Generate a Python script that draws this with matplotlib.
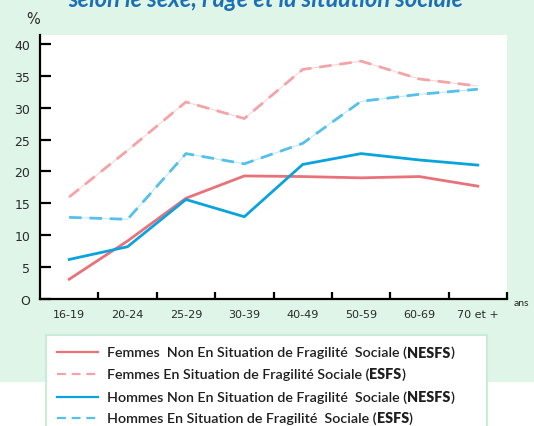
import matplotlib
matplotlib.use("Agg")
import matplotlib.pyplot as plt
from matplotlib.patches import Rectangle
from matplotlib.lines import Line2D

categories = ["16-19", "20-24", "25-29", "30-39", "40-49", "50-59", "60-69", "70 et +"]
femmes_nesfs = [3.1, 9.1, 15.8, 19.3, 19.2, 19.0, 19.2, 17.7]
femmes_esfs = [16.0, 23.3, 30.9, 28.3, 36.0, 37.3, 34.5, 33.4]
hommes_nesfs = [6.2, 8.2, 15.6, 12.9, 21.1, 22.8, 21.8, 21.0]
hommes_esfs = [12.8, 12.5, 22.8, 21.2, 24.4, 31.0, 32.1, 32.9]
yticks = [0, 5, 10, 15, 20, 25, 30, 35, 40]
ytick_labels = ["O", "5", "10", "15", "20", "25", "30", "35", "40"]

legend_entries = [
    ("Femmes  Non En Situation de Fragilité  Sociale (", "NESFS", ")"),
    ("Femmes En Situation de Fragilité Sociale (", "ESFS", ")"),
    ("Hommes Non En Situation de Fragilité  Sociale (", "NESFS", ")"),
    ("Hommes En Situation de Fragilité  Sociale (", "ESFS", ")"),
]

RED = "#e9727a"
PINK = "#f3a4a8"
BLUE = "#0aa3dd"
LBLUE = "#55c0ea"
BG = "#dff5e8"
FONT = "Lato"
TICKFONT = "DejaVu Sans"

W, H = 534, 427
fig = plt.figure(figsize=(W / 100, H / 100), dpi=100)
fig.patch.set_facecolor("white")

# green background
fig.patches.append(Rectangle((0, 1 - 383 / H), 1, 383 / H, transform=fig.transFigure,
                             facecolor=BG, edgecolor="none", zorder=-10))

ax = fig.add_axes([40 / W, 1 - 300 / H, (507 - 40) / W, (300 - 36) / H])
ax.set_zorder(1)
ax.set_facecolor("white")
x = list(range(len(categories)))

# faint underlay for dashed lines
ax.plot(x, femmes_esfs, color=PINK, lw=0.8, alpha=0.45, zorder=2)
ax.plot(x, hommes_esfs, color=LBLUE, lw=0.8, alpha=0.35, zorder=2)
ax.plot(x, femmes_esfs, color=PINK, lw=2.0, ls=(0, (4.5, 2.8)), zorder=3)
ax.plot(x, hommes_esfs, color=LBLUE, lw=2.0, ls=(0, (4.5, 2.8)), zorder=3)
ax.plot(x, femmes_nesfs, color=RED, lw=2.0, zorder=4)
ax.plot(x, hommes_nesfs, color=BLUE, lw=2.0, zorder=5)

ax.set_xlim(-0.5, len(categories) - 0.5)
ax.set_ylim(0, 41.4)
for s in ["top", "right"]:
    ax.spines[s].set_visible(False)
for s in ["left", "bottom"]:
    ax.spines[s].set_linewidth(1.6)
    ax.spines[s].set_color("black")

ax.set_yticks(yticks)
ax.set_yticklabels(ytick_labels, fontfamily=TICKFONT, fontsize=9, color="#2a2a2a")
ax.tick_params(axis="y", direction="in", length=8, width=1.6, pad=7)

ax.set_xticks([i + 0.5 for i in x])
ax.set_xticklabels([])
ax.tick_params(axis="x", which="major", direction="in", length=5, width=1.6)
ax.set_xticks(x, minor=True)
ax.set_xticklabels(categories, minor=True, fontfamily=TICKFONT, fontsize=8, color="#2a2a2a")
ax.tick_params(axis="x", which="minor", length=0, pad=7)

fig.text(33 / W, 1 - 20 / H, "%", fontfamily=TICKFONT, fontsize=10.5, color="#2a2a2a",
         ha="center", va="center")
fig.text(514 / W, 1 - 304 / H, "ans", fontfamily=FONT, fontsize=7.5, color="#2a2a2a",
         ha="left", va="center")

# partially visible title
fig.text(266 / W, 1 - 7 / H, "selon le sexe, l’âge et la situation sociale",
         fontfamily=FONT, fontsize=17, fontweight="bold", fontstyle="italic",
         color="#1d6fb5", ha="center", va="baseline")

# legend box
fig.patches.append(Rectangle((46 / W, -0.01), (487 - 46) / W, 1.01 - 336 / H,
                             transform=fig.transFigure, facecolor="white",
                             edgecolor="#c9ecd8", lw=1.5, zorder=1))
styles = [(RED, "-"), (PINK, (0, (4, 2.6))), (BLUE, "-"), (LBLUE, (0, (4, 2.6)))]
rows = [353, 375, 398, 419]
fig.canvas.draw()
renderer = fig.canvas.get_renderer()
for (col, ls), ypx, parts in zip(styles, rows, legend_entries):
    yf = 1 - ypx / H
    fig.lines.append(Line2D([57 / W, 98 / W], [yf, yf], transform=fig.transFigure,
                            color=col, lw=1.6, ls=ls, zorder=2))
    xpx = 107
    for txt, wt in zip(parts, ["semibold", "heavy", "semibold"]):
        t = fig.text(xpx / W, yf, txt, fontfamily=FONT, fontsize=10.3, fontweight=wt,
                     color="#1e1e1e", ha="left", va="center", zorder=3)
        bb = t.get_window_extent(renderer)
        xpx += bb.width

fig.savefig("out.png", dpi=100, facecolor=fig.get_facecolor())
